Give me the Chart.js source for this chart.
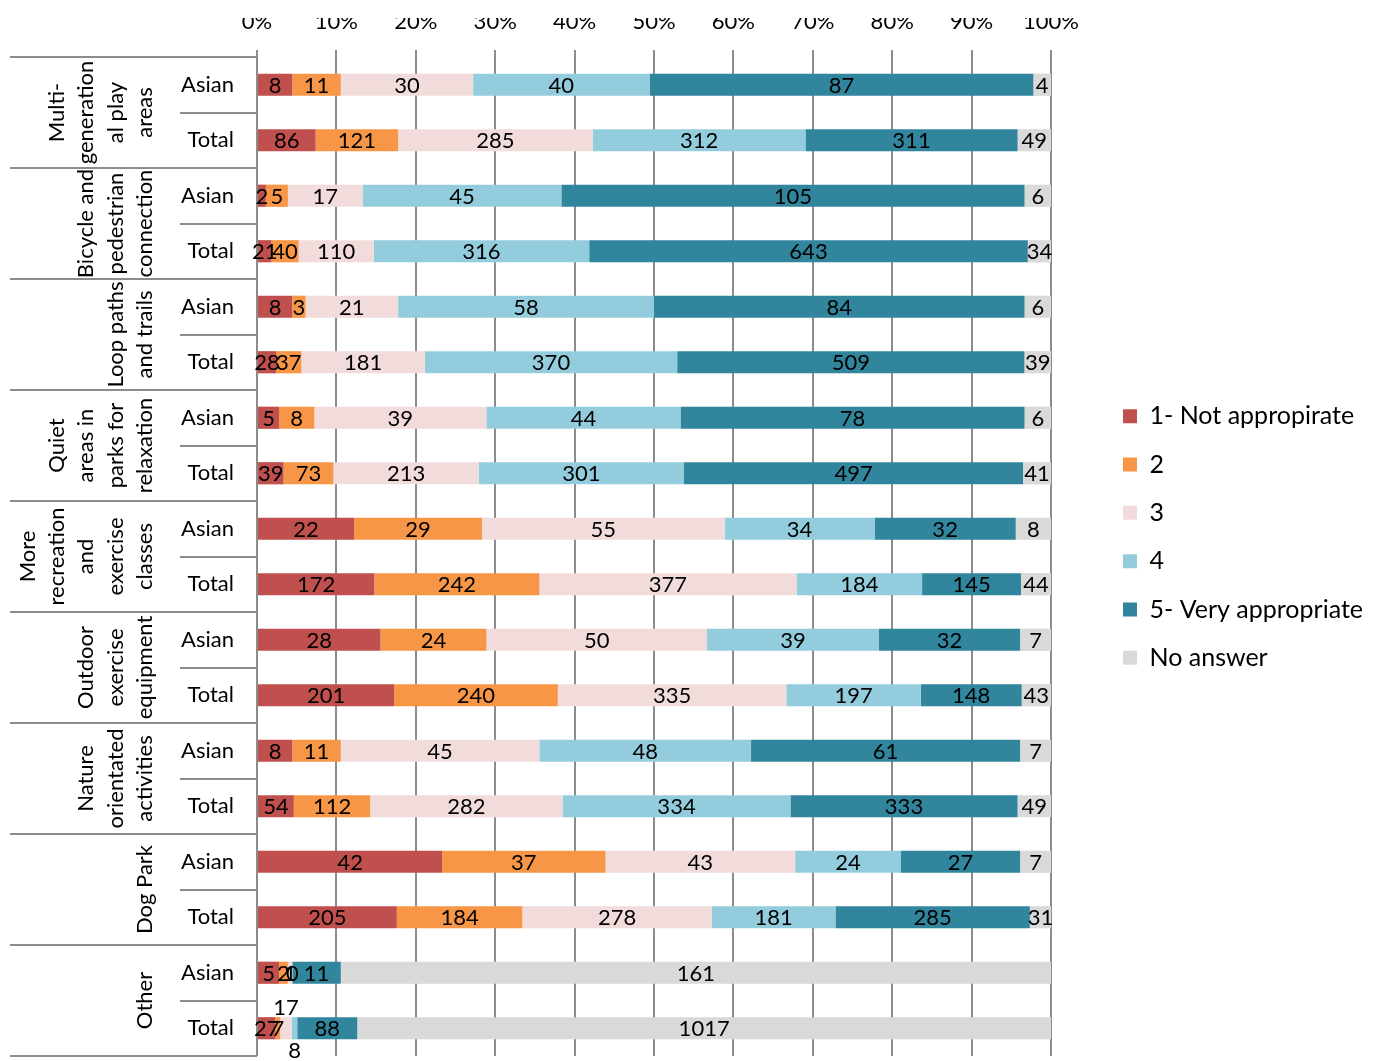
<!DOCTYPE html>
<html>
<head>
<meta charset="utf-8">
<script src="https://cdn.jsdelivr.net/npm/chart.js@4.4.1/dist/chart.umd.min.js"></script>
<style>
  html, body { margin: 0; padding: 0; background: #ffffff; }
  #wrap { width: 1377px; height: 1061px; }
</style>
</head>
<body>
<div id="wrap"><canvas id="c" width="1377" height="1061"></canvas></div>
<script>
// ---------------- DATA ----------------
const groupLines = [
  ['Multi-', 'generation', 'al play', 'areas'],
  ['Bicycle and', 'pedestrian', 'connection'],
  ['Loop paths', 'and trails'],
  ['Quiet', 'areas in', 'parks for', 'relaxation'],
  ['More', 'recreation', 'and', 'exercise', 'classes'],
  ['Outdoor', 'exercise', 'equipment'],
  ['Nature', 'orientated', 'activities'],
  ['Dog Park'],
  ['Other']
];
const subLabels = ['Asian', 'Total', 'Asian', 'Total', 'Asian', 'Total', 'Asian', 'Total', 'Asian', 'Total',
                   'Asian', 'Total', 'Asian', 'Total', 'Asian', 'Total', 'Asian', 'Total'];
const seriesNames = ['1- Not appropirate', '2', '3', '4', '5- Very appropriate', 'No answer'];

const notAppropriate  = [8, 86,   2, 21,   8, 28,   5, 39,   22, 172,  28, 201,  8, 54,    42, 205,  5, 27];
const rating2         = [11, 121, 5, 40,   3, 37,   8, 73,   29, 242,  24, 240,  11, 112,  37, 184,  2, 7];
const rating3         = [30, 285, 17, 110, 21, 181, 39, 213, 55, 377,  50, 335,  45, 282,  43, 278,  1, 17];
const rating4         = [40, 312, 45, 316, 58, 370, 44, 301, 34, 184,  39, 197,  48, 334,  24, 181,  0, 8];
const veryAppropriate = [87, 311, 105, 643, 84, 509, 78, 497, 32, 145, 32, 148,  61, 333,  27, 285,  11, 88];
const noAnswer        = [4, 49,   6, 34,   6, 39,   6, 41,   8, 44,    7, 43,    7, 49,    7, 31,    161, 1017];

const xTicks = [0, 10, 20, 30, 40, 50, 60, 70, 80, 90, 100];

// ---------------- STYLE ----------------
const FONT = 'Lato';
const seriesColors = ['#C0504D', '#F79646', '#F2DCDB', '#93CDDD', '#31859C', '#D9D9D9'];
const lineColor = '#8c8c8c';

const counts = [notAppropriate, rating2, rating3, rating4, veryAppropriate, noAnswer];
const rowTotals = subLabels.map((_, i) => counts.reduce((s, arr) => s + arr[i], 0));
const pct = counts.map(arr => arr.map((v, i) => v / rowTotals[i] * 100));

// label offsets for crowded segments (series index -> row index -> dy)
const labelShift = { 2: { 17: -21 }, 3: { 17: 22 } };

const datasets = seriesNames.map((name, s) => ({
  label: name,
  data: pct[s],
  backgroundColor: seriesColors[s],
  borderWidth: 0,
  barPercentage: 0.4,
  categoryPercentage: 1.0
}));

const dataLabelPlugin = {
  id: 'dataLabels',
  afterDatasetsDraw(chart) {
    const ctx = chart.ctx;
    ctx.save();
    ctx.font = '22px ' + FONT;
    ctx.fillStyle = '#000000';
    ctx.textAlign = 'center';
    ctx.textBaseline = 'middle';
    chart.data.datasets.forEach((ds, s) => {
      const meta = chart.getDatasetMeta(s);
      meta.data.forEach((bar, i) => {
        const cx = (bar.x + bar.base) / 2;
        let cy = bar.y;
        if (labelShift[s] && labelShift[s][i] !== undefined) cy += labelShift[s][i];
        ctx.fillText(String(counts[s][i]), cx, cy + 1);
      });
    });
    ctx.restore();
  }
};

const tablePlugin = {
  id: 'categoryTable',
  afterDraw(chart) {
    const ctx = chart.ctx;
    const area = chart.chartArea;
    const y = chart.scales.y;
    const x = chart.scales.x;
    const n = subLabels.length;
    const rowH = (area.bottom - area.top) / n;
    ctx.save();
    ctx.strokeStyle = lineColor;
    ctx.lineWidth = 2;
    // tick marks above the plot
    xTicks.forEach(v => {
      const px = Math.round(x.getPixelForValue(v));
      ctx.beginPath(); ctx.moveTo(px, area.top - 7); ctx.lineTo(px, area.top); ctx.stroke();
    });
    // group separators
    for (let g = 0; g <= groupLines.length; g++) {
      const yy = Math.round(area.top + g * 2 * rowH);
      ctx.beginPath(); ctx.moveTo(10, yy); ctx.lineTo(area.left, yy); ctx.stroke();
    }
    // sub-category separators
    for (let g = 0; g < groupLines.length; g++) {
      const yy = Math.round(area.top + (2 * g + 1) * rowH);
      ctx.beginPath(); ctx.moveTo(180, yy); ctx.lineTo(area.left, yy); ctx.stroke();
    }
    // rotated group labels
    ctx.fillStyle = '#000000';
    ctx.font = '22px ' + FONT;
    ctx.textAlign = 'center';
    ctx.textBaseline = 'middle';
    const lineGap = 29.3;
    groupLines.forEach((lines, g) => {
      const cy = (y.getPixelForValue(2 * g) + y.getPixelForValue(2 * g + 1)) / 2;
      const nl = lines.length;
      lines.forEach((t, j) => {
        const cx = 145 - (nl - 1 - j) * lineGap;
        ctx.save(); ctx.translate(cx, cy); ctx.rotate(-Math.PI / 2); ctx.fillText(t, 0, 0); ctx.restore();
      });
    });
    ctx.restore();
  }
};

const PAD_TOP = 18, PAD_BOTTOM = 5, PAD_RIGHT = 4;

new Chart(document.getElementById('c'), {
  type: 'bar',
  data: { labels: subLabels, datasets },
  options: {
    indexAxis: 'y',
    responsive: false,
    animation: false,
    devicePixelRatio: 1,
    layout: { padding: { top: PAD_TOP, bottom: PAD_BOTTOM, left: 0, right: PAD_RIGHT } },
    plugins: {
      tooltip: { enabled: false },
      legend: {
        position: 'right',
        maxWidth: 400,
        labels: {
          boxWidth: 14, boxHeight: 14, padding: 23.3, color: '#000000',
          font: { family: FONT, size: 25 }
        }
      }
    },
    scales: {
      x: {
        type: 'linear', position: 'top', stacked: true, min: 0, max: 100,
        afterBuildTicks(scale) { scale.ticks = xTicks.map(v => ({ value: v })); },
        ticks: { callback: v => v + '%', color: '#000000', font: { family: FONT, size: 22 }, padding: 22, maxRotation: 0 },
        grid: { color: lineColor, lineWidth: 2, drawTicks: false },
        border: { display: false },
        afterFit(scale) { scale.height = 57 - PAD_TOP; scale.paddingLeft = 0; scale.paddingRight = 0; }
      },
      y: {
        type: 'category', stacked: true,
        grid: { display: false }, border: { display: false },
        ticks: { color: '#000000', font: { family: FONT, size: 22 }, padding: 15, autoSkip: false },
        afterFit(scale) { scale.width = 257; scale.paddingTop = 0; scale.paddingBottom = 0; }
      },
      gap: {
        type: 'linear', position: 'right', display: true,
        ticks: { display: false }, grid: { display: false }, border: { display: false },
        afterFit(scale) {
          const lw = scale.chart.legend ? scale.chart.legend.width : 272;
          scale.width = Math.max(0, 1377 - PAD_RIGHT - 1051 - lw);
          scale.paddingTop = 0; scale.paddingBottom = 0;
        }
      }
    }
  },
  plugins: [dataLabelPlugin, tablePlugin]
});
</script>
</body>
</html>
